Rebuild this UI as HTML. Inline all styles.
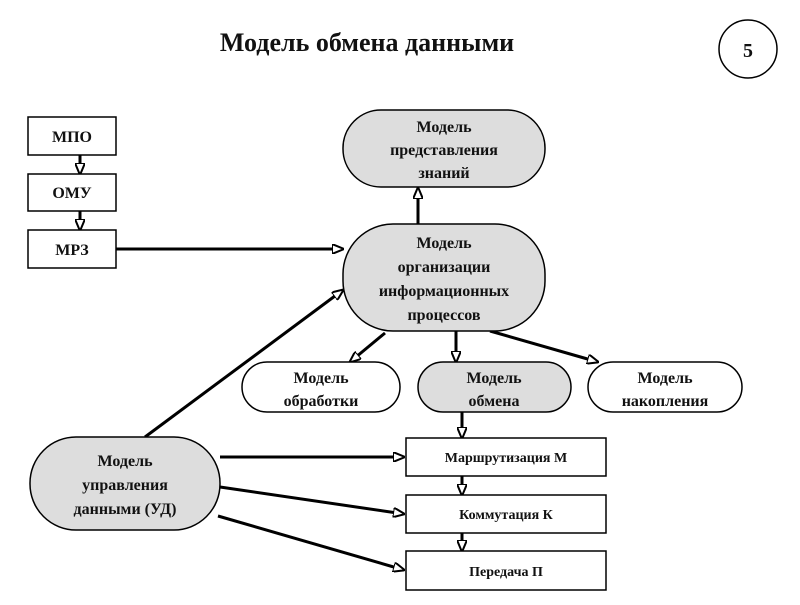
<!DOCTYPE html>
<html><head><meta charset="utf-8"><style>
body{margin:0;background:#fff;width:800px;height:600px;overflow:hidden}
svg text{font-family:"Liberation Serif",serif;font-weight:bold;text-anchor:middle;fill:#111}
</style></head><body>
<svg width="800" height="600" viewBox="0 0 800 600">
<defs><marker id="a" markerWidth="12" markerHeight="10" refX="11" refY="5" orient="auto" markerUnits="userSpaceOnUse"><path d="M0,0 L12,5 L0,10 Z" fill="#fff" stroke="#000" stroke-width="2"/></marker></defs>
<text x="367" y="51" font-size="26">Модель обмена данными</text>
<circle cx="748" cy="49" r="29" fill="#fff" stroke="#000" stroke-width="1.5"/>
<text x="748" y="57" font-size="20">5</text>
<g stroke="#000" stroke-width="3" fill="none">
<line x1="80" y1="155" x2="80" y2="174" marker-end="url(#a)"/>
<line x1="80" y1="211" x2="80" y2="230" marker-end="url(#a)"/>
<line x1="116" y1="249" x2="343" y2="249" marker-end="url(#a)"/>
<line x1="145" y1="437" x2="343" y2="290" marker-end="url(#a)"/>
<line x1="418" y1="224" x2="418" y2="188" marker-end="url(#a)"/>
<line x1="385" y1="333" x2="350" y2="362" marker-end="url(#a)"/>
<line x1="456" y1="331" x2="456" y2="362" marker-end="url(#a)"/>
<line x1="490" y1="331" x2="598" y2="362" marker-end="url(#a)"/>
<line x1="462" y1="412" x2="462" y2="438" marker-end="url(#a)"/>
<line x1="220" y1="457" x2="404" y2="457" marker-end="url(#a)"/>
<line x1="220" y1="487" x2="404" y2="514" marker-end="url(#a)"/>
<line x1="218" y1="516" x2="404" y2="570" marker-end="url(#a)"/>
<line x1="462" y1="476" x2="462" y2="495" marker-end="url(#a)"/>
<line x1="462" y1="533" x2="462" y2="551" marker-end="url(#a)"/>
</g>
<g stroke="#000" stroke-width="1.5">
<rect x="28" y="117" width="88" height="38" fill="#fff"/>
<rect x="28" y="174" width="88" height="37" fill="#fff"/>
<rect x="28" y="230" width="88" height="38" fill="#fff"/>
<rect x="343" y="110" width="202" height="77" rx="38" fill="#ddd"/>
<rect x="343" y="224" width="202" height="107" rx="50" fill="#ddd"/>
<rect x="242" y="362" width="158" height="50" rx="25" fill="#fff"/>
<rect x="418" y="362" width="153" height="50" rx="25" fill="#ddd"/>
<rect x="588" y="362" width="154" height="50" rx="25" fill="#fff"/>
<rect x="30" y="437" width="190" height="93" rx="46" fill="#ddd"/>
<rect x="406" y="438" width="200" height="38" fill="#fff"/>
<rect x="406" y="495" width="200" height="38" fill="#fff"/>
<rect x="406" y="551" width="200" height="39" fill="#fff"/>
</g>
<g font-size="16">
<text x="72" y="142">МПО</text>
<text x="72" y="198">ОМУ</text>
<text x="72" y="255">МРЗ</text>
<text x="444" y="132">Модель</text>
<text x="444" y="155">представления</text>
<text x="444" y="178">знаний</text>
<text x="444" y="248">Модель</text>
<text x="444" y="272">организации</text>
<text x="444" y="296">информационных</text>
<text x="444" y="320">процессов</text>
<text x="321" y="383">Модель</text>
<text x="321" y="406">обработки</text>
<text x="494" y="383">Модель</text>
<text x="494" y="406">обмена</text>
<text x="665" y="383">Модель</text>
<text x="665" y="406">накопления</text>
<text x="125" y="466">Модель</text>
<text x="125" y="490">управления</text>
<text x="125" y="514">данными (УД)</text>
</g>
<g font-size="14">
<text x="506" y="462">Маршрутизация М</text>
<text x="506" y="519">Коммутация К</text>
<text x="506" y="576">Передача П</text>
</g>
</svg>
</body></html>
